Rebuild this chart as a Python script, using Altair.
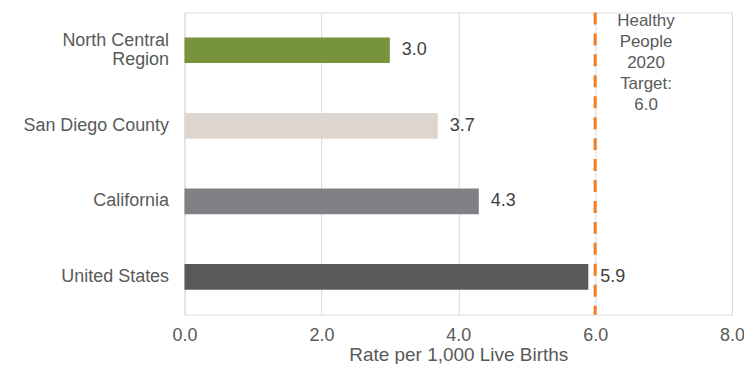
import altair as alt
import pandas as pd

regions = ["North Central\nRegion", "San Diego County", "California", "United States"]
rates = [3.0, 3.7, 4.3, 5.9]
bar_colors = ["#77933C", "#DDD5D0", "#808184", "#595959"]
target_value = 6.0
target_text = ["Healthy", "People", "2020", "Target:", "6.0"]
x_ticks = [0, 2, 4, 6, 8]

df = pd.DataFrame({"region": regions, "rate": rates, "color": bar_colors,
                   "label": [f"{v:.1f}" for v in rates]})
tdf = pd.DataFrame({"target": [target_value], "text": [target_text]})

FONT = "Liberation Sans"
TXT = "#595959"

x = alt.X("rate:Q", scale=alt.Scale(domain=[0, 8]),
          axis=alt.Axis(values=x_ticks, format=".1f", title="Rate per 1,000 Live Births",
                        grid=True, gridColor="#D9D9D9", domain=False, ticks=False,
                        labelFlush=False,
                        labelPadding=12, titlePadding=1, labelFontSize=18, titleFontSize=19,
                        labelColor=TXT, titleColor=TXT, labelFont=FONT, titleFont=FONT,
                        titleFontWeight="normal"))
y = alt.Y("region:N", sort=regions,
          scale=alt.Scale(paddingInner=0.66, paddingOuter=0.33),
          axis=alt.Axis(title=None, domain=False, ticks=False, labelPadding=16,
                        labelFontSize=18, labelColor=TXT, labelFont=FONT, labelLineHeight=19,
                        labelOffset={"condition": {"test": "indexof(datum.label, 'Region') >= 0",
                                                   "value": -9}, "value": 0}))

bars = alt.Chart(df).mark_bar().encode(x=x, y=y, color=alt.Color("color:N", scale=None))
labels = alt.Chart(df).mark_text(align="left", dx=12, fontSize=18, font=FONT, color="#404040").encode(
    x="rate:Q", y=alt.Y("region:N", sort=regions), text="label:N")

rule = alt.Chart(tdf).mark_rule(color="#F47B20", strokeWidth=3, strokeDash=[12, 9]).encode(
    x="target:Q")
ann = alt.Chart(tdf).mark_text(align="center", baseline="top", dx=51, fontSize=17, font=FONT,
                               color=TXT, lineHeight=21).encode(
    x="target:Q", y=alt.value(1), text="text")

chart = alt.layer(bars, labels, rule, ann).properties(
    width=549, height=303,
    autosize=alt.AutoSizeParams(type="none"),
    padding={"left": 177, "top": 4, "right": 12, "bottom": 49},
).configure_view(stroke=None).configure(lineBreak="\n")

chart.save("out.html", embed_options={"renderer": "svg", "actions": False})
